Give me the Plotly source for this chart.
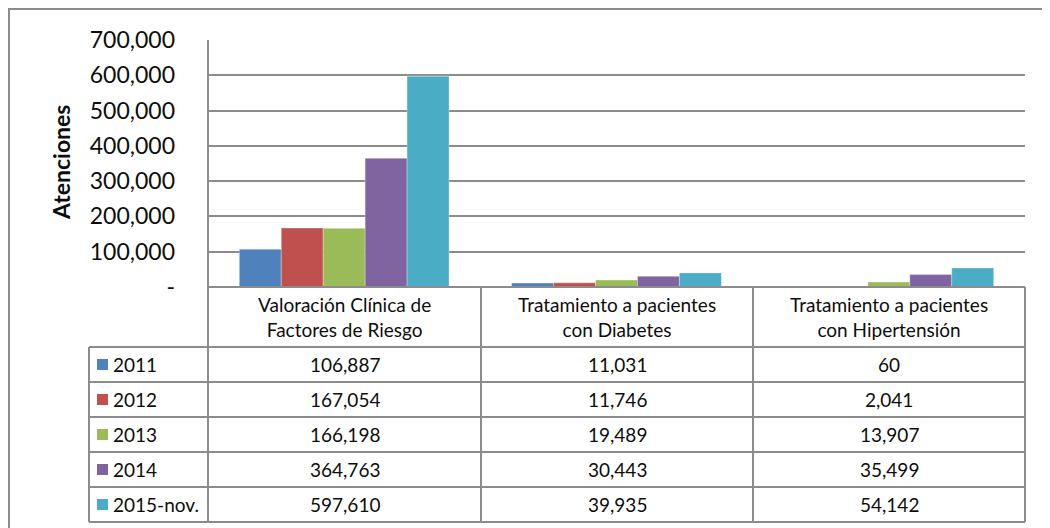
import plotly.graph_objects as go

categories = ["Valoración Clínica de<br>Factores de Riesgo",
              "Tratamiento a pacientes<br>con Diabetes",
              "Tratamiento a pacientes<br>con Hipertensión"]
years = ["2011", "2012", "2013", "2014", "2015-nov."]
v2011 = [106887, 11031, 60]
v2012 = [167054, 11746, 2041]
v2013 = [166198, 19489, 13907]
v2014 = [364763, 30443, 35499]
v2015 = [597610, 39935, 54142]
series = [v2011, v2012, v2013, v2014, v2015]
colors = ["#4F81BD", "#C0504D", "#9BBB59", "#8064A2", "#4BACC6"]
tick_vals = [0, 100000, 200000, 300000, 400000, 500000, 600000, 700000]
tick_text = ["-"] + [f"{v:,}" for v in tick_vals[1:]]

# page offset from the default body margin
OFF = 8
W, H = 1050 - OFF, 528 - OFF
L, R, T, B = 208, 1025, 40, 287
FONT = "Lato, Calibri, sans-serif"
LINE = "#8c8c8c"
TXT = "#0d0d0d"


def px(x):
    return (x - L) / (R - L)


def py(y):
    return (B - y) / (B - T)


fig = go.Figure()
for name, vals, c in zip(years, series, colors):
    fig.add_trace(go.Bar(x=categories, y=vals, name=name, marker_color=c,
                         marker_line_color="rgba(255,255,255,0.6)", marker_line_width=0.5))

shapes = []
annotations = []


def hline(x0, x1, y):
    shapes.append(dict(type="line", xref="paper", yref="paper", x0=px(x0), x1=px(x1),
                       y0=py(y), y1=py(y), line=dict(color=LINE, width=2)))


def vline(x, y0, y1):
    shapes.append(dict(type="line", xref="paper", yref="paper", x0=px(x), x1=px(x),
                       y0=py(y0), y1=py(y1), line=dict(color=LINE, width=2)))


def label(x, y, text, size=19, xanchor="center", **kw):
    annotations.append(dict(x=px(x), y=py(y), xref="paper", yref="paper", text=text,
                            xanchor=xanchor, yanchor="middle", showarrow=False,
                            font=dict(family=FONT, size=size, color=TXT), **kw))


# outer chart border
shapes.append(dict(type="rect", xref="paper", yref="paper", x0=px(9), x1=px(1060),
                   y0=py(540), y1=py(9), line=dict(color=LINE, width=2)))

# data table grid
row_edges = [347, 382, 417, 452, 487, 522]
col_edges = [208, 481, 753, 1025]
hline(208, 1025, 287)
for y in row_edges:
    hline(89, 1025, y)
vline(89, 347, 522)
vline(208, 40, 522)
for x in col_edges[1:]:
    vline(x, 287, 522)

# header labels
for i, cat in enumerate(categories):
    cx = (col_edges[i] + col_edges[i + 1]) / 2
    label(cx, 317, cat, align="center")

# rows
for r, (name, vals, c) in enumerate(zip(years, series, colors)):
    cy = (row_edges[r] + row_edges[r + 1]) / 2
    shapes.append(dict(type="rect", xref="paper", yref="paper", x0=px(97), x1=px(108),
                       y0=py(cy + 5.5), y1=py(cy - 5.5), fillcolor=c, line=dict(width=0)))
    label(111, cy, name, xanchor="left")
    for i, v in enumerate(vals):
        cx = (col_edges[i] + col_edges[i + 1]) / 2
        label(cx, cy, f"{v:,}")

# axis title
label(61, 163, "<b>Atenciones</b>", size=23, textangle=-90)

fig.update_layout(
    width=W, height=H,
    margin=dict(l=L - OFF, r=W + OFF - R, t=T - OFF, b=H + OFF - B, pad=0),
    paper_bgcolor="white", plot_bgcolor="white",
    barmode="group", bargap=0.23, bargroupgap=0,
    showlegend=False,
    shapes=shapes, annotations=annotations,
    font=dict(family=FONT, color=TXT),
)
fig.update_xaxes(showticklabels=False, showgrid=False, zeroline=False, showline=False,
                 range=[-0.5, 2.5])
fig.update_yaxes(range=[0, 700000], tickvals=tick_vals, ticktext=tick_text,
                 showgrid=True, gridcolor=LINE, gridwidth=2, zeroline=False,
                 showline=False, ticks="", ticklabelstandoff=32,
                 tickfont=dict(family=FONT, size=23, color=TXT))

fig.write_html("out.html", config={"displayModeBar": False})
